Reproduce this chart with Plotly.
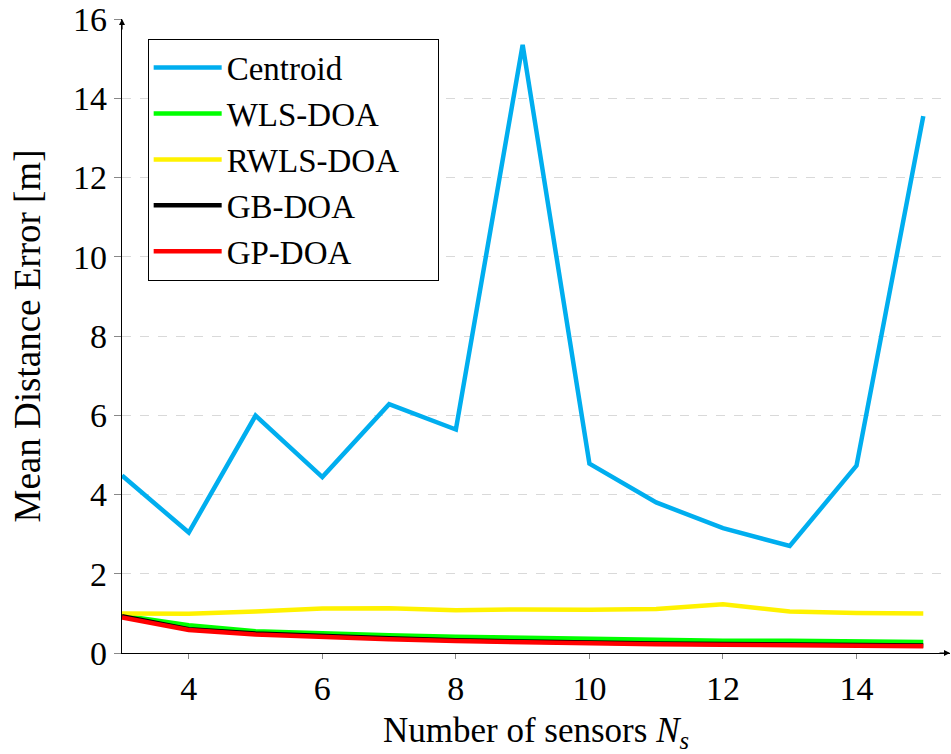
import plotly.graph_objects as go

sensors = [3, 4, 5, 6, 7, 8, 9, 10, 11, 12, 13, 14, 15]
centroid = [4.48, 3.04, 5.99, 4.44, 6.28, 5.64, 15.35, 4.78, 3.80, 3.15, 2.70, 4.73, 13.55]
wls_doa = [0.95, 0.70, 0.55, 0.49, 0.45, 0.41, 0.38, 0.35, 0.33, 0.31, 0.31, 0.29, 0.28]
rwls_doa = [1.00, 0.99, 1.05, 1.12, 1.13, 1.08, 1.10, 1.09, 1.11, 1.23, 1.05, 1.01, 1.00]
gb_doa = [0.93, 0.60, 0.49, 0.42, 0.37, 0.32, 0.29, 0.27, 0.24, 0.23, 0.22, 0.20, 0.19]
gp_doa = [0.90, 0.58, 0.47, 0.40, 0.35, 0.30, 0.27, 0.25, 0.22, 0.21, 0.20, 0.18, 0.17]

series = [
    ("Centroid", centroid, "#00AEEF"),
    ("WLS-DOA", wls_doa, "#00FF00"),
    ("RWLS-DOA", rwls_doa, "#FFF200"),
    ("GB-DOA", gb_doa, "#000000"),
    ("GP-DOA", gp_doa, "#FF0000"),
]

x_ticks = [4, 6, 8, 10, 12, 14]
y_ticks = [0, 2, 4, 6, 8, 10, 12, 14, 16]

FONT = "Liberation Serif"
PAD = "\u00a0" * 4  # widen legend box to match reference

fig = go.Figure()
for name, vals, col in series:
    fig.add_trace(go.Scatter(x=sensors, y=vals, mode="lines", name=name + PAD,
                             line=dict(color=col, width=4.5)))

fig.update_layout(
    width=951, height=754,
    margin=dict(l=122, r=1, t=17, b=101),
    paper_bgcolor="white", plot_bgcolor="white",
    font=dict(family=FONT, size=34, color="black"),
    showlegend=True,
    legend=dict(x=0.031, y=0.969, xanchor="left", yanchor="top",
                bgcolor="white", bordercolor="black", borderwidth=1,
                font=dict(family=FONT, size=33), itemwidth=68,
                tracegroupgap=0),
)
fig.update_xaxes(range=[3, 15.4], tickvals=x_ticks, ticktext=[str(v) for v in x_ticks],
                 showgrid=False, zeroline=False, showline=True, linecolor="black", linewidth=1.2,
                 ticks="outside", ticklen=5, tickcolor="#888888",
                 tickfont=dict(family=FONT, size=34), ticklabeloverflow="allow",
                 title=dict(text="Number of sensors <i>N<sub>s</sub></i>", standoff=21,
                            font=dict(family=FONT, size=35)))
fig.update_yaxes(range=[0, 16], tickvals=y_ticks, ticktext=[str(v) for v in y_ticks],
                 showgrid=True, gridcolor="#d9d9d9", griddash="dash", gridwidth=1,
                 zeroline=False, showline=True, linecolor="black", linewidth=1.2,
                 ticks="outside", ticklen=7, tickcolor="#888888",
                 tickfont=dict(family=FONT, size=34), ticklabeloverflow="allow",
                 title=dict(text="Mean Distance Error [m]", standoff=21,
                            font=dict(family=FONT, size=37)))

# axis arrowheads
fig.add_annotation(xref="paper", yref="paper", x=1.0, y=0, ax=-12, ay=0,
                   showarrow=True, arrowhead=2, arrowsize=1, arrowwidth=1.2,
                   arrowcolor="black", text="")
fig.add_annotation(xref="paper", yref="paper", x=0, y=1.0, ax=0, ay=12,
                   showarrow=True, arrowhead=2, arrowsize=1, arrowwidth=1.2,
                   arrowcolor="black", text="")

fig.write_html("out.html")
